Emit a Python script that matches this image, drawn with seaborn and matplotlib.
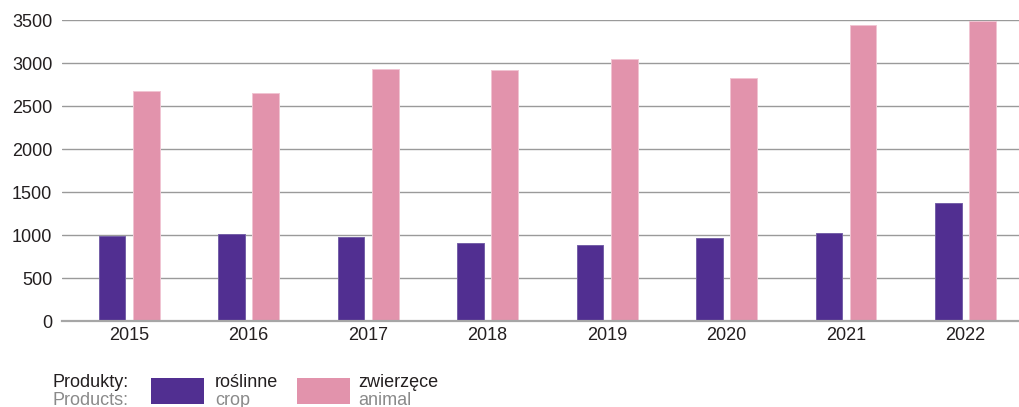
import matplotlib
matplotlib.use("Agg")
import matplotlib.pyplot as plt
from matplotlib.patches import Rectangle
import seaborn as sns
import pandas as pd

# Production value by year, split into crop and animal products
years = ["2015", "2016", "2017", "2018", "2019", "2020", "2021", "2022"]
crop = [990, 1010, 983, 913, 882, 967, 1025, 1375]
animal = [2677, 2650, 2936, 2917, 3045, 2828, 3442, 3495]
series_keys = ["crop", "animal"]
series_pl = ["roślinne", "zwierzęce"]
series_en = ["crop", "animal"]
yticks = [0, 500, 1000, 1500, 2000, 2500, 3000, 3500]

colors = {"crop": "#512f91", "animal": "#e293ac"}
edges = {"crop": "#7560a8", "animal": "#f0c4d2"}

df = pd.DataFrame({
    "year": years * 2,
    "value": crop + animal,
    "series": ["crop"] * len(years) + ["animal"] * len(years),
})

sns.set_theme(style="white")
plt.rcParams["font.family"] = ["Liberation Sans", "DejaVu Sans"]

FS = 13

fig = plt.figure(figsize=(10.19, 4.07), dpi=100)
ax = fig.add_axes([62 / 1019, 86 / 407, 1 - 62 / 1019, (321 - 20.3) / 407])

sns.barplot(data=df, x="year", y="value", hue="series", hue_order=series_keys,
            order=years, palette=colors, width=0.572, gap=0.22,
            legend=False, ax=ax, linewidth=0.7, saturation=1)

# lighter outline on each bar, matching its series colour
for cont, key in zip(ax.containers, series_keys):
    for bar in cont:
        bar.set_edgecolor(edges[key])

ax.set_xlim(-0.563, 7.448)
ax.set_ylim(0, 3500)
ax.set_yticks(yticks)
ax.set_yticklabels([str(v) for v in yticks])
ax.set_xlabel("")
ax.set_ylabel("")

ax.grid(axis="y", color="#9a9a9a", linewidth=1.0)
ax.grid(axis="x", visible=False)
ax.set_axisbelow(True)
for side in ["top", "right", "left"]:
    ax.spines[side].set_visible(False)
ax.spines["bottom"].set_color("#a6a6a6")
ax.spines["bottom"].set_linewidth(1.6)

ax.tick_params(axis="y", length=0, pad=7, labelsize=FS, labelcolor="#231f20")
ax.tick_params(axis="x", length=0, pad=4, labelsize=FS, labelcolor="#231f20")

# Bilingual legend below the chart
W, H = 1019, 407
def fx(px):
    return px / W
def fy(py):
    return 1 - py / H

fig.text(fx(53), fy(387), "Produkty:", fontsize=FS, color="#231f20", va="baseline", ha="left")
fig.text(fx(53), fy(405), "Products:", fontsize=FS, color="#8a8a8a", va="baseline", ha="left")

patch_x = [151, 297]
text_x = [215, 358]
for key, pl, en, px, tx in zip(series_keys, series_pl, series_en, patch_x, text_x):
    fig.patches.append(Rectangle((fx(px), fy(404)), fx(53), 26 / H,
                                 transform=fig.transFigure, facecolor=colors[key],
                                 edgecolor="none"))
    fig.text(fx(tx), fy(387), pl, fontsize=FS, color="#231f20", va="baseline", ha="left")
    fig.text(fx(tx), fy(405), en, fontsize=FS, color="#8a8a8a", va="baseline", ha="left")

fig.savefig("out.png", dpi=100, facecolor="white")
